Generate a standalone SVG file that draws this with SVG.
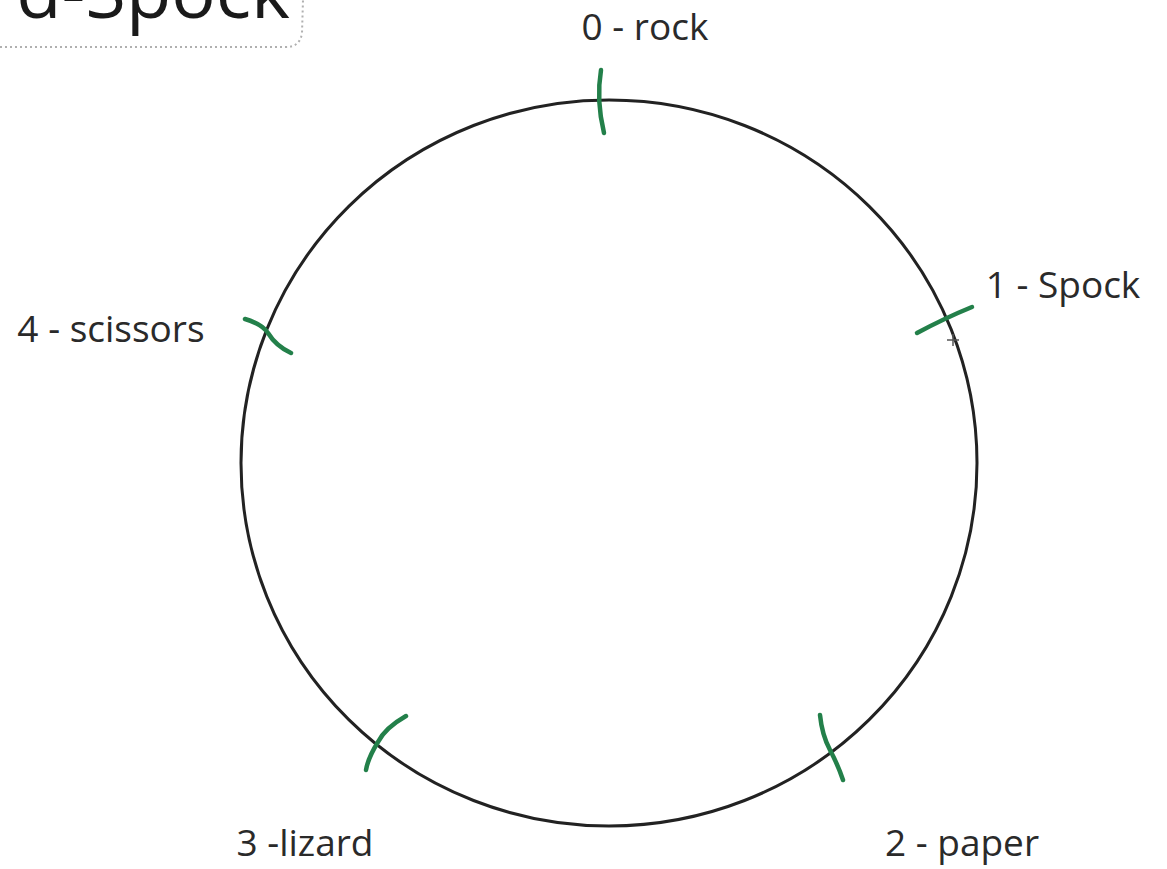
<svg xmlns="http://www.w3.org/2000/svg" width="1167" height="869" viewBox="0 0 1167 869">
<style>
.lbl{font-family:"Open Sans","Noto Sans",sans-serif;font-size:37px;fill:#2a2a2a}
.tick{fill:none;stroke:#23804a;stroke-width:4.5;stroke-linecap:round;stroke-linejoin:round}
</style>
<rect width="1167" height="869" fill="#ffffff"/>
<g id="title">
<path d="M0,47 L286,47 Q300,47 302,33 L303,0" fill="none" stroke="#b0b0b0" stroke-width="2" stroke-dasharray="2,3"/>
<text x="290" y="18" text-anchor="end" font-family="Open Sans,Noto Sans,sans-serif" font-size="74" fill="#1a1a1a">d-Spock</text>
</g>
<g id="circle">
<ellipse cx="609" cy="463" rx="368" ry="363" fill="none" stroke="#222222" stroke-width="3"/>
</g>
<g id="node-rock">
<path class="tick" d="M601,70 Q596,100 604,133"/>
<text class="lbl" x="645" y="40" text-anchor="middle">0 - rock</text>
</g>
<g id="node-spock">
<path class="tick" d="M917,333 Q945,318 972,307"/>
<path d="M947,340 L959,340 M953,334 L953,346" stroke="#555" stroke-width="1.5" fill="none"/>
<text class="lbl" x="1063" y="298" text-anchor="middle">1 - Spock</text>
</g>
<g id="node-paper">
<path class="tick" d="M820,715 Q822,735 830,750 Q838,765 843,780"/>
<text class="lbl" x="962" y="856" text-anchor="middle">2 - paper</text>
</g>
<g id="node-lizard">
<path class="tick" d="M406,716 Q385,728 378,742 Q368,758 366,770"/>
<text class="lbl" x="305" y="856" text-anchor="middle">3 -lizard</text>
</g>
<g id="node-scissors">
<path class="tick" d="M245,319 Q262,324 268,333 Q276,346 291,353"/>
<text class="lbl" x="111" y="342" text-anchor="middle">4 - scissors</text>
</g>
</svg>
